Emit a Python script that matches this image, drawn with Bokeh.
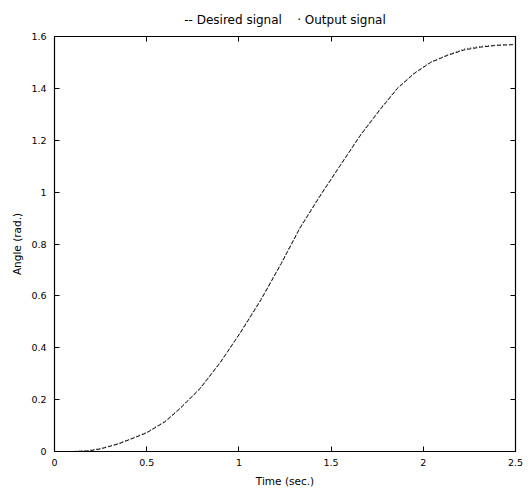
from bokeh.plotting import figure
from bokeh.models import LinearAxis, FixedTicker, CustomJSTickFormatter, Range1d
from bokeh.embed import file_html
from bokeh.resources import INLINE

# time samples (sec.)
t = [0.0, 0.1, 0.18, 0.25, 0.35, 0.5, 0.6, 0.68, 0.79, 0.9, 1.01, 1.12, 1.23, 1.33,
     1.44, 1.55, 1.66, 1.77, 1.86, 1.95, 2.04, 2.13, 2.22, 2.31, 2.4, 2.5]
# desired signal (rad.)
desired = [0.0, 0.0, 0.002, 0.01, 0.03, 0.072, 0.115, 0.165, 0.243, 0.344, 0.46, 0.585,
           0.725, 0.86, 0.985, 1.103, 1.22, 1.322, 1.40, 1.457, 1.50, 1.527, 1.548,
           1.559, 1.566, 1.569]
# output signal (rad.)
output = [0.0, 0.0, 0.004, 0.012, 0.032, 0.074, 0.117, 0.167, 0.245, 0.345, 0.462, 0.588,
          0.728, 0.862, 0.988, 1.105, 1.222, 1.325, 1.402, 1.459, 1.502, 1.529, 1.552,
          1.562, 1.567, 1.570]

x_ticks = [0, 0.5, 1, 1.5, 2, 2.5]
y_ticks = [0, 0.2, 0.4, 0.6, 0.8, 1.0, 1.2, 1.4, 1.6]

FONT = "DejaVu Sans"

p = figure(frame_width=461, frame_height=415, output_backend="svg", toolbar_location=None,
           x_range=Range1d(0, 2.5), y_range=Range1d(0, 1.6),
           min_border_left=54, min_border_right=10, min_border_top=36, min_border_bottom=37,
           title="-- Desired signal\u00a0\u00a0\u00a0\u00a0\u00b7 Output signal")
p.title.align = "center"
p.title.text_font = FONT
p.title.text_font_size = "12px"
p.title.text_font_style = "normal"
p.title.text_color = "black"
p.title.offset = 0
p.title.standoff = 20

p.grid.visible = False
p.outline_line_color = "black"
p.outline_line_width = 1.2

fmt = CustomJSTickFormatter(code="return tick.toFixed(1).replace(/\\.0$/, '');")
blank = CustomJSTickFormatter(code="return '';")

p.line(t, desired, line_color="black", line_width=1, line_dash="4 2")
p.line(t, output, line_color="#444444", line_width=1, line_dash="1 2")

for ax, ticks in ((p.xaxis[0], x_ticks), (p.yaxis[0], y_ticks)):
    ax.ticker = FixedTicker(ticks=ticks)
    ax.formatter = fmt
    ax.major_tick_in = 5
    ax.major_tick_out = 0
    ax.minor_tick_line_color = None
    ax.axis_line_color = "black"
    ax.major_tick_line_color = "black"
    ax.major_label_text_font = FONT
    ax.major_label_text_font_size = "9.5px"
    ax.major_label_text_color = "black"
    ax.axis_label_text_font = FONT
    ax.axis_label_text_font_size = "10.5px"
    ax.axis_label_text_font_style = "normal"
    ax.axis_label_text_color = "black"

p.xaxis.major_label_standoff = 7
p.yaxis.major_label_standoff = 8
p.xaxis.axis_label = "Time (sec.)"
p.yaxis.axis_label = "Angle (rad.)"
p.xaxis.axis_label_standoff = 6
p.yaxis.axis_label_standoff = 5

top = LinearAxis(ticker=FixedTicker(ticks=x_ticks), formatter=blank,
                 major_tick_in=5, major_tick_out=0, minor_tick_line_color=None,
                 major_label_standoff=0,
                 major_tick_line_color="black", axis_line_color="black")
right = LinearAxis(ticker=FixedTicker(ticks=y_ticks), formatter=blank,
                   major_tick_in=5, major_tick_out=0, minor_tick_line_color=None,
                   major_label_standoff=0,
                   major_tick_line_color="black", axis_line_color="black")
p.add_layout(top, "above")
p.add_layout(right, "right")

open("out.html", "w").write(file_html(p, INLINE))
